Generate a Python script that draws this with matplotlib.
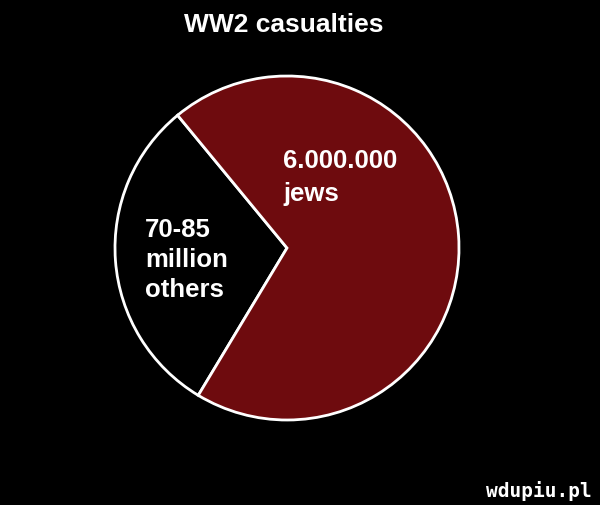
import matplotlib
matplotlib.use("Agg")
import matplotlib.pyplot as plt

title = "WW2 casualties"
categories = ["70-85\nmillion\nothers", "6.000.000\njews"]
shares = [30.4, 69.6]  # wedge proportions as drawn (percent of circle)
colors = ["#000000", "#6e0b0e"]

W, H = 600, 505
fig = plt.figure(figsize=(W / 100, H / 100), dpi=100, facecolor="black")
ax = fig.add_axes([0, 0, 1, 1])
ax.set_facecolor("black")

cx, cy, r = 287, H - 248, 172
ax.pie(shares, colors=colors, startangle=129.5, counterclock=True,
       center=(cx, cy), radius=r, frame=True,
       wedgeprops=dict(edgecolor="white", linewidth=2.0))
ax.set_xlim(0, W)
ax.set_ylim(0, H)
ax.set_aspect("equal")
ax.axis("off")

font = "Liberation Sans"
fig.text(284 / W, 1 - 25 / H, title, color="white", fontsize=19, fontweight="bold",
         family=font, ha="center", va="center")

ax.text(145, H - 218, categories[0], color="white", fontsize=18.5, fontweight="bold",
        family=font, ha="left", va="top", linespacing=1.32)
ax.text(283, H - 149, categories[1], color="white", fontsize=18.5, fontweight="bold",
        family=font, ha="left", va="top", linespacing=1.45)

fig.text(592 / W, 1 - 491 / H, "wdupiu.pl", color="white", fontsize=14,
         fontweight="bold", family="DejaVu Sans Mono", ha="right", va="center")

fig.savefig("out.png", dpi=100, facecolor="black")
